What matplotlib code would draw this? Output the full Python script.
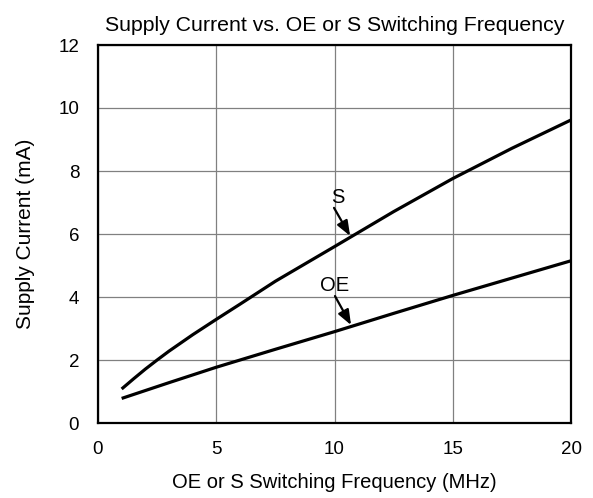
import matplotlib
matplotlib.use("Agg")
import matplotlib.pyplot as plt

freq_s = [1, 1.5, 2, 2.5, 3, 4, 5, 6, 7.5, 10, 12.5, 15, 17.5, 20]
current_s = [1.08, 1.4, 1.71, 2.0, 2.28, 2.8, 3.29, 3.77, 4.5, 5.6, 6.71, 7.76, 8.72, 9.62]
freq_oe = [1, 3, 5, 7.5, 10, 12.5, 15, 17.5, 20]
current_oe = [0.78, 1.28, 1.77, 2.34, 2.9, 3.48, 4.05, 4.6, 5.15]
xticks = [0, 5, 10, 15, 20]
yticks = [0, 2, 4, 6, 8, 10, 12]

plt.rcParams['font.family'] = ['Liberation Sans', 'DejaVu Sans']
fig = plt.figure(figsize=(5.93, 4.98), dpi=100)
ax = fig.add_axes([98/593, 1-423/498, (571-98)/593, (423-45)/498])
ax.plot(freq_s, current_s, color='black', lw=2.3, solid_capstyle='butt', solid_joinstyle='round')
ax.plot(freq_oe, current_oe, color='black', lw=2.3, solid_capstyle='butt', solid_joinstyle='round')
ax.set_xlim(0, 20)
ax.set_ylim(0, 12)
ax.set_xticks(xticks)
ax.set_yticks(yticks)
ax.tick_params(length=0, labelsize=13.5)
ax.tick_params(axis='x', pad=13)
ax.tick_params(axis='y', pad=13.5)
ax.grid(True, color='#808080', lw=0.9)
for s in ax.spines.values():
    s.set_linewidth(1.6)
ax.set_xlabel('OE or S Switching Frequency (MHz)', fontsize=14.5, labelpad=11)
ax.set_ylabel('Supply Current (mA)', fontsize=15, labelpad=17)
ax.set_title('Supply Current vs. OE or S Switching Frequency', fontsize=15.3, pad=10)

ax.text(10.15, 7.17, 'S', fontsize=14.5, ha='center', va='center')
ax.text(10.02, 4.38, 'OE', fontsize=14.5, ha='center', va='center')
arrow = dict(arrowstyle='-|>,head_length=0.9,head_width=0.35', color='black', lw=1.6,
             shrinkA=0, shrinkB=0)
ax.annotate('', xy=(10.66, 5.94), xytext=(9.98, 6.83), arrowprops=arrow)
ax.annotate('', xy=(10.7, 3.11), xytext=(10.02, 4.03), arrowprops=arrow)
fig.savefig('out.png', dpi=100)
